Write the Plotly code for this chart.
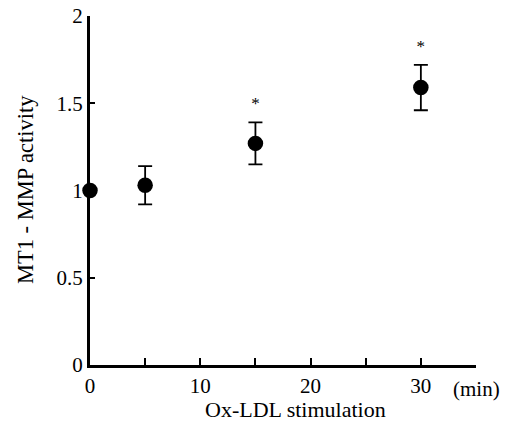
import plotly.graph_objects as go

time_min = [0, 5, 15, 30]
activity = [1.0, 1.03, 1.27, 1.59]
sem = [0.0, 0.11, 0.12, 0.13]
significant = [False, False, True, True]

x_tickvals = [0, 5, 10, 15, 20, 25, 30, 35]
x_ticktext = ["0", "", "10", "", "20", "", "30", ""]
y_tickvals = [0, 0.5, 1, 1.5, 2]
y_ticktext = ["0", "0.5", "1", "1.5", "2"]

FONT = "Liberation Serif, Times New Roman, serif"

W, H = 505, 426
L, R, T, B = 90, 29, 16, 61
pw, ph = W - L - R, H - T - B


def px(x, y):
    return (x - L) / pw, (H - B - y) / ph


fig = go.Figure()
fig.add_trace(go.Scatter(
    x=time_min, y=activity, mode="markers",
    marker=dict(size=15.5, color="black"),
    error_y=dict(type="data", array=sem, visible=True, color="black", thickness=1.8, width=7),
    cliponaxis=False, showlegend=False,
))

sx = [t for t, s in zip(time_min, significant) if s]
sy = [a + e + 0.1 for a, e, s in zip(activity, sem, significant) if s]
fig.add_trace(go.Scatter(
    x=sx, y=sy, mode="text", text=["*"] * len(sx),
    textfont=dict(family=FONT, size=17, color="black"),
    cliponaxis=False, showlegend=False,
))

anns = []
for text, (x, y), size, angle in [
    ("Ox-LDL stimulation", (295, 409), 22, 0),
    ("MT1 - MMP activity", (25, 190), 22.5, -90),
    ("(min)", (476, 389), 21, 0),
]:
    ax, ay = px(x, y)
    anns.append(dict(text=text, x=ax, y=ay, xref="paper", yref="paper",
                     xanchor="center", yanchor="middle", showarrow=False,
                     textangle=angle, font=dict(family=FONT, size=size, color="black")))

fig.update_layout(
    template="none",
    width=W, height=H,
    margin=dict(l=L, r=R, t=T, b=B, autoexpand=False),
    paper_bgcolor="white", plot_bgcolor="white",
    font=dict(family=FONT, size=21, color="black"),
    xaxis=dict(
        range=[0, 35], tickvals=x_tickvals, ticktext=x_ticktext,
        ticks="inside", ticklen=7, tickwidth=2, tickcolor="black",
        showline=True, linecolor="black", linewidth=3, showgrid=False, zeroline=False,
        automargin=False, tickfont=dict(family=FONT, size=21),
    ),
    yaxis=dict(
        range=[0, 2], tickvals=y_tickvals, ticktext=y_ticktext,
        ticks="inside", ticklen=5, tickwidth=2, tickcolor="black",
        showline=True, linecolor="black", linewidth=3, showgrid=False, zeroline=False,
        automargin=False, tickfont=dict(family=FONT, size=21),
    ),
    annotations=anns,
)

fig.write_html(
    "out.html",
    config={"displayModeBar": False},
    post_script="document.body.style.margin='0';document.body.style.overflow='hidden';",
)
